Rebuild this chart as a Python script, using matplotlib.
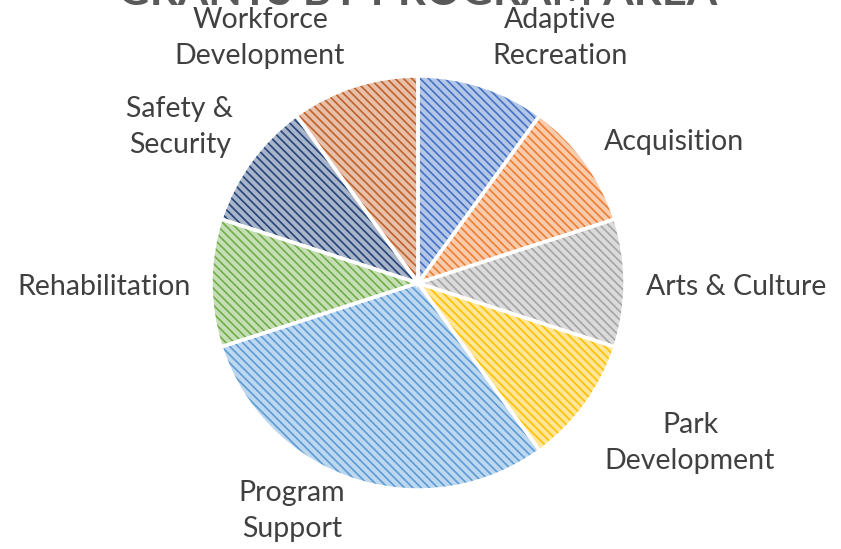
import numpy as np
import matplotlib
matplotlib.use("Agg")
import matplotlib.pyplot as plt
from matplotlib.colors import to_rgb

# data
areas = ["Adaptive\nRecreation", "Acquisition", "Arts & Culture", "Park\nDevelopment",
         "Program\nSupport", "Rehabilitation", "Safety &\nSecurity", "Workforce\nDevelopment"]
grants = [1, 1, 1, 1, 3, 1, 1, 1]
base_colors = ["#4472C4", "#ED7D31", "#A5A5A5", "#FFC000",
               "#5B9BD5", "#70AD47", "#264478", "#C0622A"]

# label positions, in pie-radius units
label_xy = [(0.686, 1.184), (1.237, 0.681), (1.536, -0.019), (1.314, -0.773),
            (-0.609, -1.101), (-1.517, -0.019), (-1.150, 0.754), (-0.763, 1.184)]


def tint(c, f=0.6):
    r, g, b = to_rgb(c)
    return (r + (1 - r) * f, g + (1 - g) * f, b + (1 - b) * f)


plt.rcParams["hatch.linewidth"] = 1.2
plt.rcParams["font.family"] = ["Lato", "DejaVu Sans"]

fig = plt.figure(figsize=(8.41, 5.49), dpi=100)
ax = fig.add_axes([0, 0, 1, 1])

wedges, _ = ax.pie(grants, startangle=90, counterclock=False,
                   colors=[tint(c) for c in base_colors],
                   wedgeprops=dict(linewidth=0, hatch="\\" * 4))
for w, c in zip(wedges, base_colors):
    w.set_edgecolor(c)  # hatch takes the edge colour
    w.set_linewidth(0)

# white separators on top
ax.pie(grants, startangle=90, counterclock=False, colors=["none"] * len(grants),
       wedgeprops=dict(linewidth=2.5, edgecolor="white"))

for txt, (x, y) in zip(areas, label_xy):
    ax.text(x, y, txt, ha="center", va="center", fontsize=20.5,
            color="#404040", linespacing=1.5)

# 1 radius = 207 px, centre at (418, 283) px from top-left
r = 207.0
ax.set_xlim(-418 / r, (841 - 418) / r)
ax.set_ylim(-(549 - 283) / r, 283 / r)
ax.set_aspect("auto")
ax.axis("off")

fig.text(0.497, 1 - 5 / 549, "GRANTS BY PROGRAM AREA", ha="center", va="baseline",
         fontsize=31.5, fontweight="bold", color="#595959")

fig.savefig("out.png", dpi=100)
